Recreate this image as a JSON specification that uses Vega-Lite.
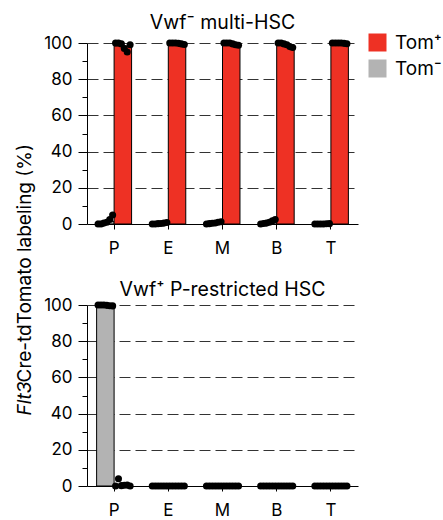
{
  "$schema": "https://vega.github.io/schema/vega-lite/v6.json",
  "autosize": {"type": "none"},
  "padding": {"left": 87, "top": 43, "right": 356, "bottom": 477},
  "bounds": "flush",
  "spacing": 81,
  "config": {
    "font": "Inter",
    "view": {"stroke": null},
    "axis": {"domainColor": "#000", "tickColor": "#000", "labelColor": "#000", "labelFontSize": 17, "titleColor": "#000", "titleFontSize": 19, "titleFontWeight": "normal", "domainWidth": 1, "tickWidth": 1},
    "title": {"fontSize": 19.5, "fontWeight": "normal", "color": "#000", "anchor": "middle", "frame": "group", "baseline": "alphabetic"},
    "legend": {"title": null, "orient": "none", "legendX": 281, "legendY": -10, "symbolType": "square", "symbolSize": 324, "symbolStrokeColor": "#000", "symbolStrokeWidth": 1, "symbolOpacity": 1, "labelFontSize": 19, "labelColor": "#000", "rowPadding": 3, "labelOffset": 8, "padding": 0}
  },
  "datasets": {
    "d": [
      {"panel": "multi", "cat": "P", "group": "Tom⁻", "sample": "n1", "value": 0},
      {"panel": "multi", "cat": "P", "group": "Tom⁻", "sample": "n2", "value": 0},
      {"panel": "multi", "cat": "P", "group": "Tom⁻", "sample": "n3", "value": 0.5},
      {"panel": "multi", "cat": "P", "group": "Tom⁻", "sample": "n4", "value": 1},
      {"panel": "multi", "cat": "P", "group": "Tom⁻", "sample": "n5", "value": 2.5},
      {"panel": "multi", "cat": "P", "group": "Tom⁻", "sample": "n6", "value": 5},
      {"panel": "multi", "cat": "P", "group": "Tom⁺", "sample": "p1", "value": 100},
      {"panel": "multi", "cat": "P", "group": "Tom⁺", "sample": "p2", "value": 100},
      {"panel": "multi", "cat": "P", "group": "Tom⁺", "sample": "p3", "value": 99.5},
      {"panel": "multi", "cat": "P", "group": "Tom⁺", "sample": "p4", "value": 97},
      {"panel": "multi", "cat": "P", "group": "Tom⁺", "sample": "p5", "value": 95},
      {"panel": "multi", "cat": "P", "group": "Tom⁺", "sample": "p6", "value": 99},
      {"panel": "multi", "cat": "E", "group": "Tom⁻", "sample": "n1", "value": 0},
      {"panel": "multi", "cat": "E", "group": "Tom⁻", "sample": "n2", "value": 0},
      {"panel": "multi", "cat": "E", "group": "Tom⁻", "sample": "n3", "value": 0.2},
      {"panel": "multi", "cat": "E", "group": "Tom⁻", "sample": "n4", "value": 0.3},
      {"panel": "multi", "cat": "E", "group": "Tom⁻", "sample": "n5", "value": 0.5},
      {"panel": "multi", "cat": "E", "group": "Tom⁻", "sample": "n6", "value": 0.8},
      {"panel": "multi", "cat": "E", "group": "Tom⁺", "sample": "p1", "value": 100},
      {"panel": "multi", "cat": "E", "group": "Tom⁺", "sample": "p2", "value": 100},
      {"panel": "multi", "cat": "E", "group": "Tom⁺", "sample": "p3", "value": 100},
      {"panel": "multi", "cat": "E", "group": "Tom⁺", "sample": "p4", "value": 99.8},
      {"panel": "multi", "cat": "E", "group": "Tom⁺", "sample": "p5", "value": 99.5},
      {"panel": "multi", "cat": "E", "group": "Tom⁺", "sample": "p6", "value": 99.2},
      {"panel": "multi", "cat": "M", "group": "Tom⁻", "sample": "n1", "value": 0},
      {"panel": "multi", "cat": "M", "group": "Tom⁻", "sample": "n2", "value": 0.2},
      {"panel": "multi", "cat": "M", "group": "Tom⁻", "sample": "n3", "value": 0.4},
      {"panel": "multi", "cat": "M", "group": "Tom⁻", "sample": "n4", "value": 0.6},
      {"panel": "multi", "cat": "M", "group": "Tom⁻", "sample": "n5", "value": 1},
      {"panel": "multi", "cat": "M", "group": "Tom⁻", "sample": "n6", "value": 1.2},
      {"panel": "multi", "cat": "M", "group": "Tom⁺", "sample": "p1", "value": 100},
      {"panel": "multi", "cat": "M", "group": "Tom⁺", "sample": "p2", "value": 100},
      {"panel": "multi", "cat": "M", "group": "Tom⁺", "sample": "p3", "value": 100},
      {"panel": "multi", "cat": "M", "group": "Tom⁺", "sample": "p4", "value": 99.5},
      {"panel": "multi", "cat": "M", "group": "Tom⁺", "sample": "p5", "value": 99},
      {"panel": "multi", "cat": "M", "group": "Tom⁺", "sample": "p6", "value": 98.8},
      {"panel": "multi", "cat": "B", "group": "Tom⁻", "sample": "n1", "value": 0},
      {"panel": "multi", "cat": "B", "group": "Tom⁻", "sample": "n2", "value": 0.3},
      {"panel": "multi", "cat": "B", "group": "Tom⁻", "sample": "n3", "value": 0.5},
      {"panel": "multi", "cat": "B", "group": "Tom⁻", "sample": "n4", "value": 1},
      {"panel": "multi", "cat": "B", "group": "Tom⁻", "sample": "n5", "value": 1.8},
      {"panel": "multi", "cat": "B", "group": "Tom⁻", "sample": "n6", "value": 2.5},
      {"panel": "multi", "cat": "B", "group": "Tom⁺", "sample": "p1", "value": 100},
      {"panel": "multi", "cat": "B", "group": "Tom⁺", "sample": "p2", "value": 100},
      {"panel": "multi", "cat": "B", "group": "Tom⁺", "sample": "p3", "value": 99.5},
      {"panel": "multi", "cat": "B", "group": "Tom⁺", "sample": "p4", "value": 99},
      {"panel": "multi", "cat": "B", "group": "Tom⁺", "sample": "p5", "value": 98},
      {"panel": "multi", "cat": "B", "group": "Tom⁺", "sample": "p6", "value": 97.5},
      {"panel": "multi", "cat": "T", "group": "Tom⁻", "sample": "n1", "value": 0},
      {"panel": "multi", "cat": "T", "group": "Tom⁻", "sample": "n2", "value": 0},
      {"panel": "multi", "cat": "T", "group": "Tom⁻", "sample": "n3", "value": 0},
      {"panel": "multi", "cat": "T", "group": "Tom⁻", "sample": "n4", "value": 0},
      {"panel": "multi", "cat": "T", "group": "Tom⁻", "sample": "n5", "value": 0.1},
      {"panel": "multi", "cat": "T", "group": "Tom⁻", "sample": "n6", "value": 0.2},
      {"panel": "multi", "cat": "T", "group": "Tom⁺", "sample": "p1", "value": 100},
      {"panel": "multi", "cat": "T", "group": "Tom⁺", "sample": "p2", "value": 100},
      {"panel": "multi", "cat": "T", "group": "Tom⁺", "sample": "p3", "value": 100},
      {"panel": "multi", "cat": "T", "group": "Tom⁺", "sample": "p4", "value": 100},
      {"panel": "multi", "cat": "T", "group": "Tom⁺", "sample": "p5", "value": 99.8},
      {"panel": "multi", "cat": "T", "group": "Tom⁺", "sample": "p6", "value": 99.6},
      {"panel": "prestr", "cat": "P", "group": "Tom⁻", "sample": "n1", "value": 100},
      {"panel": "prestr", "cat": "P", "group": "Tom⁻", "sample": "n2", "value": 100},
      {"panel": "prestr", "cat": "P", "group": "Tom⁻", "sample": "n3", "value": 100},
      {"panel": "prestr", "cat": "P", "group": "Tom⁻", "sample": "n4", "value": 99.8},
      {"panel": "prestr", "cat": "P", "group": "Tom⁻", "sample": "n5", "value": 99.6},
      {"panel": "prestr", "cat": "P", "group": "Tom⁻", "sample": "n6", "value": 99.5},
      {"panel": "prestr", "cat": "P", "group": "Tom⁺", "sample": "p1", "value": 0},
      {"panel": "prestr", "cat": "P", "group": "Tom⁺", "sample": "p2", "value": 4},
      {"panel": "prestr", "cat": "P", "group": "Tom⁺", "sample": "p3", "value": 0.2},
      {"panel": "prestr", "cat": "P", "group": "Tom⁺", "sample": "p4", "value": 0.4},
      {"panel": "prestr", "cat": "P", "group": "Tom⁺", "sample": "p5", "value": 0.5},
      {"panel": "prestr", "cat": "P", "group": "Tom⁺", "sample": "p6", "value": 0},
      {"panel": "prestr", "cat": "E", "group": "Tom⁻", "sample": "n1", "value": 0},
      {"panel": "prestr", "cat": "E", "group": "Tom⁻", "sample": "n2", "value": 0},
      {"panel": "prestr", "cat": "E", "group": "Tom⁻", "sample": "n3", "value": 0},
      {"panel": "prestr", "cat": "E", "group": "Tom⁻", "sample": "n4", "value": 0},
      {"panel": "prestr", "cat": "E", "group": "Tom⁻", "sample": "n5", "value": 0},
      {"panel": "prestr", "cat": "E", "group": "Tom⁻", "sample": "n6", "value": 0},
      {"panel": "prestr", "cat": "E", "group": "Tom⁺", "sample": "p1", "value": 0},
      {"panel": "prestr", "cat": "E", "group": "Tom⁺", "sample": "p2", "value": 0},
      {"panel": "prestr", "cat": "E", "group": "Tom⁺", "sample": "p3", "value": 0},
      {"panel": "prestr", "cat": "E", "group": "Tom⁺", "sample": "p4", "value": 0},
      {"panel": "prestr", "cat": "E", "group": "Tom⁺", "sample": "p5", "value": 0},
      {"panel": "prestr", "cat": "E", "group": "Tom⁺", "sample": "p6", "value": 0},
      {"panel": "prestr", "cat": "M", "group": "Tom⁻", "sample": "n1", "value": 0},
      {"panel": "prestr", "cat": "M", "group": "Tom⁻", "sample": "n2", "value": 0},
      {"panel": "prestr", "cat": "M", "group": "Tom⁻", "sample": "n3", "value": 0},
      {"panel": "prestr", "cat": "M", "group": "Tom⁻", "sample": "n4", "value": 0},
      {"panel": "prestr", "cat": "M", "group": "Tom⁻", "sample": "n5", "value": 0},
      {"panel": "prestr", "cat": "M", "group": "Tom⁻", "sample": "n6", "value": 0},
      {"panel": "prestr", "cat": "M", "group": "Tom⁺", "sample": "p1", "value": 0},
      {"panel": "prestr", "cat": "M", "group": "Tom⁺", "sample": "p2", "value": 0},
      {"panel": "prestr", "cat": "M", "group": "Tom⁺", "sample": "p3", "value": 0},
      {"panel": "prestr", "cat": "M", "group": "Tom⁺", "sample": "p4", "value": 0},
      {"panel": "prestr", "cat": "M", "group": "Tom⁺", "sample": "p5", "value": 0},
      {"panel": "prestr", "cat": "M", "group": "Tom⁺", "sample": "p6", "value": 0},
      {"panel": "prestr", "cat": "B", "group": "Tom⁻", "sample": "n1", "value": 0},
      {"panel": "prestr", "cat": "B", "group": "Tom⁻", "sample": "n2", "value": 0},
      {"panel": "prestr", "cat": "B", "group": "Tom⁻", "sample": "n3", "value": 0},
      {"panel": "prestr", "cat": "B", "group": "Tom⁻", "sample": "n4", "value": 0},
      {"panel": "prestr", "cat": "B", "group": "Tom⁻", "sample": "n5", "value": 0},
      {"panel": "prestr", "cat": "B", "group": "Tom⁻", "sample": "n6", "value": 0},
      {"panel": "prestr", "cat": "B", "group": "Tom⁺", "sample": "p1", "value": 0},
      {"panel": "prestr", "cat": "B", "group": "Tom⁺", "sample": "p2", "value": 0},
      {"panel": "prestr", "cat": "B", "group": "Tom⁺", "sample": "p3", "value": 0},
      {"panel": "prestr", "cat": "B", "group": "Tom⁺", "sample": "p4", "value": 0},
      {"panel": "prestr", "cat": "B", "group": "Tom⁺", "sample": "p5", "value": 0},
      {"panel": "prestr", "cat": "B", "group": "Tom⁺", "sample": "p6", "value": 0},
      {"panel": "prestr", "cat": "T", "group": "Tom⁻", "sample": "n1", "value": 0},
      {"panel": "prestr", "cat": "T", "group": "Tom⁻", "sample": "n2", "value": 0},
      {"panel": "prestr", "cat": "T", "group": "Tom⁻", "sample": "n3", "value": 0},
      {"panel": "prestr", "cat": "T", "group": "Tom⁻", "sample": "n4", "value": 0},
      {"panel": "prestr", "cat": "T", "group": "Tom⁻", "sample": "n5", "value": 0},
      {"panel": "prestr", "cat": "T", "group": "Tom⁻", "sample": "n6", "value": 0},
      {"panel": "prestr", "cat": "T", "group": "Tom⁺", "sample": "p1", "value": 0},
      {"panel": "prestr", "cat": "T", "group": "Tom⁺", "sample": "p2", "value": 0},
      {"panel": "prestr", "cat": "T", "group": "Tom⁺", "sample": "p3", "value": 0},
      {"panel": "prestr", "cat": "T", "group": "Tom⁺", "sample": "p4", "value": 0},
      {"panel": "prestr", "cat": "T", "group": "Tom⁺", "sample": "p5", "value": 0},
      {"panel": "prestr", "cat": "T", "group": "Tom⁺", "sample": "p6", "value": 0}
    ]
  },
  "vconcat": [
    {
      "width": 271,
      "height": 181,
      "title": {"text": "Vwf⁻ multi-HSC", "offset": 1},
      "data": {"name": "d"},
      "transform": [{"filter": "datum.panel === 'multi'"}],
      "encoding": {
        "x": {"field": "cat", "type": "nominal", "sort": ["P", "E", "M", "B", "T"], "scale": {"paddingInner": 0.355, "paddingOuter": 0.1775}, "axis": {"title": null, "labelAngle": 0, "tickSize": 5, "labelPadding": 11, "labelFontSize": 17}}
      },
      "layer": [
        {
          "mark": {"type": "bar", "stroke": "#000", "strokeWidth": 1},
          "encoding": {
            "xOffset": {"field": "group", "type": "nominal", "sort": ["Tom⁻", "Tom⁺"]},
            "y": {"aggregate": "mean", "field": "value", "type": "quantitative", "scale": {"domain": [0, 100]},
              "axis": {"title": "Cre-tdTomato labeling (%)", "titleAngle": 270, "titleAlign": "left", "titleBaseline": "alphabetic", "titleX": -57, "titleY": 339,
                "values": [0, 10, 20, 30, 40, 50, 60, 70, 80, 90, 100], "tickCount": 11, "labelExpr": "datum.value % 20 === 0 ? datum.label : ''", "labelOverlap": false,
                "tickSize": {"condition": {"test": "datum.value % 20 === 0", "value": 9}, "value": 5},
                "grid": true, "gridDash": [11, 5], "gridColor": "#333", "gridWidth": 1.2,
                "gridOpacity": {"condition": {"test": "datum.value % 20 === 0 && datum.value > 0", "value": 1}, "value": 0},
                "labelPadding": 6, "labelFontSize": 17}},
            "color": {"field": "group", "type": "nominal", "scale": {"domain": ["Tom⁺", "Tom⁻"], "range": ["#EE3124", "#B3B3B3"]},
              "legend": {"encode": {"symbols": {"enter": {"fill": {"signal": "indexof(datum.label, '⁻') >= 0 ? '#8F8F8F' : '#EE3124'"}}, "update": {"fill": {"signal": "indexof(datum.label, '⁻') >= 0 ? '#8F8F8F' : '#EE3124'"}}}}}}
          }
        },
        {
          "mark": {"type": "circle", "size": 50, "color": "#000", "opacity": 1},
          "encoding": {
            "xOffset": {"field": "sample", "type": "nominal"},
            "y": {"field": "value", "type": "quantitative", "axis": {"title": "Cre-tdTomato labeling (%)"}}
          }
        }
      ],
      "resolve": {"scale": {"xOffset": "independent"}}
    },
    {
      "width": 271,
      "height": 181,
      "title": {"text": "Vwf⁺ P-restricted HSC", "offset": -4},
      "data": {"name": "d"},
      "transform": [{"filter": "datum.panel === 'prestr'"}],
      "encoding": {
        "x": {"field": "cat", "type": "nominal", "sort": ["P", "E", "M", "B", "T"], "scale": {"paddingInner": 0.355, "paddingOuter": 0.1775}, "axis": {"title": null, "labelAngle": 0, "tickSize": 5, "labelPadding": 11, "labelFontSize": 17}}
      },
      "layer": [
        {
          "mark": {"type": "bar", "stroke": "#000", "strokeWidth": 1},
          "encoding": {
            "xOffset": {"field": "group", "type": "nominal", "sort": ["Tom⁻", "Tom⁺"]},
            "y": {"aggregate": "mean", "field": "value", "type": "quantitative", "scale": {"domain": [0, 100]},
              "axis": {"title": "Flt3", "titleFontStyle": "italic", "titleAngle": 270, "titleAlign": "left", "titleBaseline": "alphabetic", "titleX": -57, "titleY": 110,
                "values": [0, 10, 20, 30, 40, 50, 60, 70, 80, 90, 100], "tickCount": 11, "labelExpr": "datum.value % 20 === 0 ? datum.label : ''", "labelOverlap": false,
                "tickSize": {"condition": {"test": "datum.value % 20 === 0", "value": 9}, "value": 5},
                "grid": true, "gridDash": [11, 5], "gridColor": "#333", "gridWidth": 1.2,
                "gridOpacity": {"condition": {"test": "datum.value % 20 === 0 && datum.value > 0", "value": 1}, "value": 0},
                "labelPadding": 6, "labelFontSize": 17}},
            "color": {"field": "group", "type": "nominal", "scale": {"domain": ["Tom⁺", "Tom⁻"], "range": ["#EE3124", "#B3B3B3"]}}
          }
        },
        {
          "mark": {"type": "circle", "size": 50, "color": "#000", "opacity": 1},
          "encoding": {
            "xOffset": {"field": "sample", "type": "nominal"},
            "y": {"field": "value", "type": "quantitative", "axis": {"title": "Flt3"}}
          }
        }
      ],
      "resolve": {"scale": {"xOffset": "independent"}}
    }
  ]
}
